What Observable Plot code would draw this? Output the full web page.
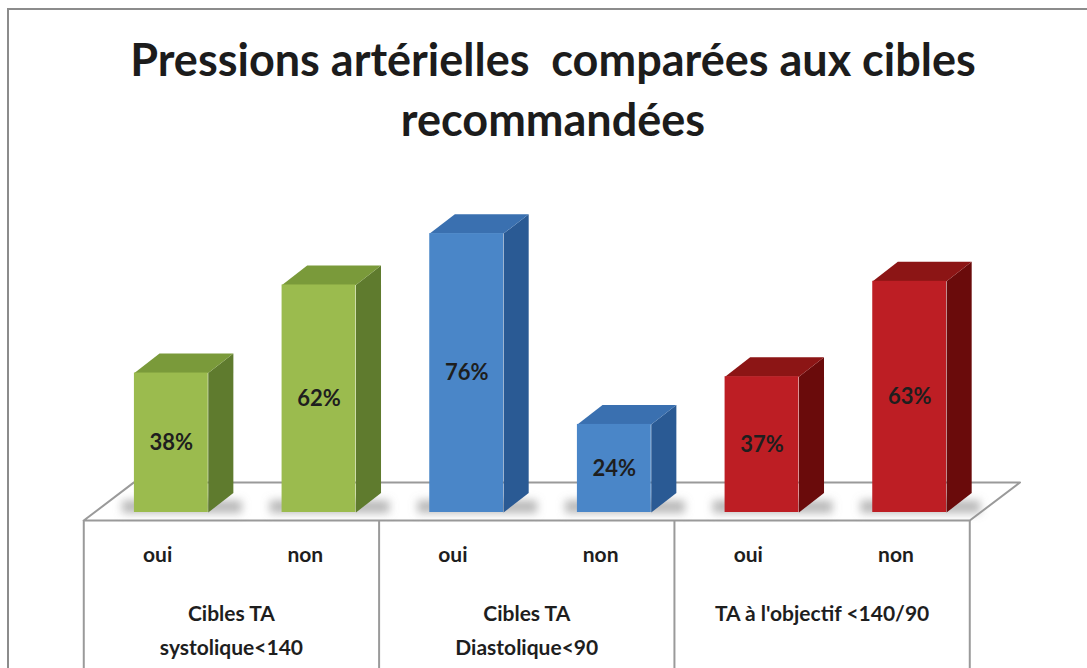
<!DOCTYPE html>
<html>
<head>
<meta charset="utf-8">
<script src="https://cdn.jsdelivr.net/npm/d3@7"></script>
<script src="https://cdn.jsdelivr.net/npm/@observablehq/plot@0.6"></script>
<style>
  html, body { margin: 0; padding: 0; background: #fff; width: 1087px; height: 668px; overflow: hidden; }
  #frame { position: absolute; left: 7px; top: 8px; width: 1100px; height: 700px; border: 2px solid #8c8c8c; box-sizing: border-box; }
  #title { position: absolute; left: 0; top: 29px; width: 1106px; text-align: center; font-family: Lato, "Open Sans", sans-serif; font-weight: bold; font-size: 45px; line-height: 60px; color: #1c1c1c; }
  #chart { position: absolute; left: 0; top: 130px; }
</style>
</head>
<body>
<div id="frame"></div>
<div id="title">Pressions artérielles&nbsp; comparées aux cibles<br>recommandées</div>
<div id="chart"></div>
<script>
// ---- data ----
const groups = ["Cibles TA\nsystolique<140", "Cibles TA\nDiastolique<90", "TA à l'objectif <140/90"];
const answers = ["oui", "non"];
const values = [38, 62, 76, 24, 37, 63];
const frontColors = ["#9bbb4e", "#4a86c8", "#bd1e24"];
const sideColors = ["#5f7b2e", "#2a5a94", "#6a0b0b"];
const topColors = ["#7a9a3a", "#3a70b0", "#8c1515"];

const bars = values.map((v, i) => ({
  i, g: Math.floor(i / 2), group: groups[Math.floor(i / 2)], answer: answers[i % 2], value: v
}));

// 3D geometry in data units
const hw = 0.25;          // half bar width (category units)
const ddx = 0.17, ddy = 5.3; // bar depth
const shift = -0.093;     // table offset
const floorFront = -2.2, floorDx = 0.34, floorDy = 10.4;

const sidePts = bars.flatMap(d => [
  {id: d.i, g: d.g, x: d.i + hw, y: 0},
  {id: d.i, g: d.g, x: d.i + hw + ddx, y: ddy},
  {id: d.i, g: d.g, x: d.i + hw + ddx, y: d.value + ddy},
  {id: d.i, g: d.g, x: d.i + hw, y: d.value}
]);
const topPts = bars.flatMap(d => [
  {id: d.i, g: d.g, x: d.i - hw, y: d.value},
  {id: d.i, g: d.g, x: d.i + hw, y: d.value},
  {id: d.i, g: d.g, x: d.i + hw + ddx, y: d.value + ddy},
  {id: d.i, g: d.g, x: d.i - hw + ddx, y: d.value + ddy}
]);
const x0 = -0.5 + shift, x1 = 5.5 + shift;
const floorPts = [
  {x: x0, y: floorFront}, {x: x1, y: floorFront},
  {x: x1 + floorDx, y: floorFront + floorDy}, {x: x0 + floorDx, y: floorFront + floorDy},
  {x: x0, y: floorFront}
];
const dividers = [0, 1, 2, 3].map(k => -0.5 + 2 * k + shift);

const chart = Plot.plot({
  width: 1087,
  height: 538,
  marginTop: 15,
  marginBottom: 156,
  marginLeft: 97,
  marginRight: 104,
  x: {domain: [-0.5, 5.5], axis: null},
  y: {domain: [0, 100], axis: null},
  style: {fontFamily: "Lato, 'Open Sans', sans-serif", background: "transparent"},
  marks: [
    Plot.line(floorPts, {x: "x", y: "y", fill: "#fff", stroke: "#9a9a9a", strokeWidth: 2}),
    // soft shadows on floor
    Plot.rect(bars, {x1: d => d.i - hw - 0.08, x2: d => d.i + hw + ddx + 0.06, y1: -0.3, y2: 3.2, fill: "#8a8a8a", opacity: 0.6}),
    Plot.ruleX(dividers, {y1: floorFront, y2: -45, stroke: "#9a9a9a", strokeWidth: 2}),
    Plot.line(sidePts, {x: "x", y: "y", z: "id", fill: d => sideColors[d.g], stroke: null}),
    Plot.line(topPts, {x: "x", y: "y", z: "id", fill: d => topColors[d.g], stroke: null}),
    Plot.rectY(bars, {x1: d => d.i - hw, x2: d => d.i + hw, y1: 0, y2: "value", fill: d => frontColors[d.g]}),
    Plot.text(bars, {x: "i", y: d => d.value / 2, text: d => d.value + "%", fontSize: 22, fontWeight: "bold", fill: "#1e1e1e"}),
    Plot.text(bars, {x: d => d.i + shift, y: -11.7, text: "answer", fontSize: 21, fontWeight: "bold", fill: "#1e1e1e"}),
    Plot.text(groups, {x: (d, k) => 2 * k + 0.5 + shift, y: -23.2, text: d => d, lineAnchor: "top", lineHeight: 1.6, fontSize: 21, fontWeight: "bold", fill: "#1e1e1e"})
  ]
});
// blur the floor shadows (first rect mark)
const svg = d3.select(chart);
const defs = svg.insert("defs", ":first-child");
defs.append("filter").attr("id", "softshadow")
  .attr("filterUnits", "userSpaceOnUse").attr("x", 0).attr("y", 0).attr("width", 1087).attr("height", 538)
  .append("feGaussianBlur").attr("stdDeviation", 4);
const rectGroups = chart.querySelectorAll("g[aria-label='rect']");
if (rectGroups.length) rectGroups[0].setAttribute("filter", "url(#softshadow)");
document.getElementById("chart").appendChild(chart);
</script>
</body>
</html>
